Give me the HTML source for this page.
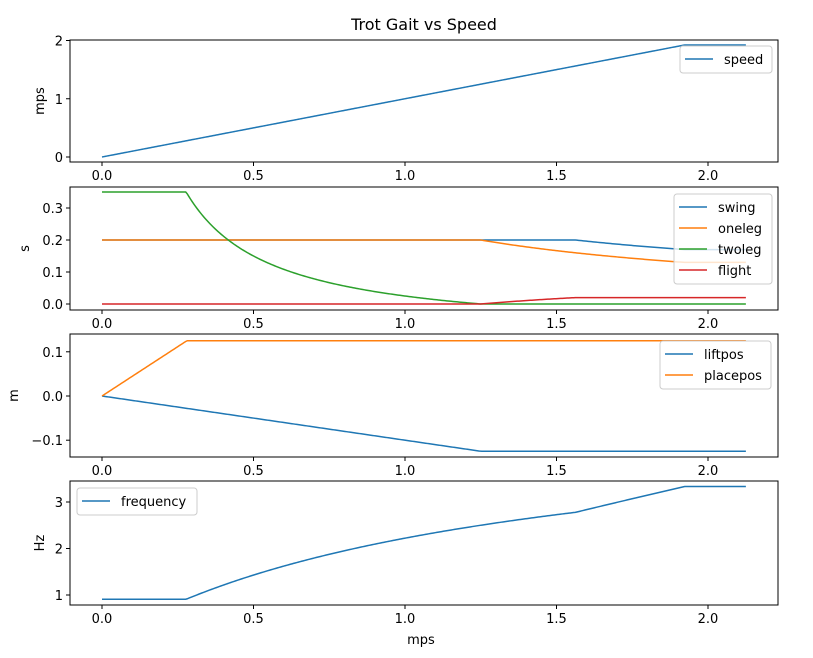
<!DOCTYPE html>
<html><head><meta charset="utf-8"><style>
body{margin:0;background:#fff}
svg{display:block;font-family:"DejaVu Sans","Liberation Sans",sans-serif}
</style></head><body>
<svg id="s" width="813" height="658" xmlns="http://www.w3.org/2000/svg"></svg>
<script>
const S=document.getElementById('s');let h='';
const X=v=>102+303*v, L=70, R=778;
const C=['#1f77b4','#ff7f0e','#2ca02c','#d62728'];
h+='<rect width="813" height="658" fill="#fff"/>';
h+='<text x="424" y="30" font-size="16" text-anchor="middle">Trot Gait vs Speed</text>';
function f(x){const v=Math.min(x,1.923);let tw,ol,fl,sw;
 if(v<=0.28){tw=0.35;ol=0.2;fl=0;sw=0.2}
 else if(v<=1.25){tw=Math.max(0,0.125/v-0.1);ol=0.2;fl=0;sw=0.2}
 else if(v<=1.5625){tw=0;ol=0.25/v;fl=(0.2-ol)/2;sw=0.2}
 else{tw=0;ol=0.25/v;fl=0.02;sw=ol+0.04}
 const lp=-Math.min(0.1*v,0.125),pp=Math.min(v*0.125/0.28,0.125);
 const T=2*(ol+tw+fl);
 return {speed:v,sw,ol,tw,fl,lp,pp,fr:1/T};}
const P=[{t:40,b:162,y0:157,k:58.25,keys:['speed'],ticks:[[0,'0'],[1,'1'],[2,'2']],yl:'mps',ylx:44},
{t:187,b:310,y0:304,k:320,keys:['sw','ol','tw','fl'],ticks:[[0,'0.0'],[0.1,'0.1'],[0.2,'0.2'],[0.3,'0.3']],yl:'s',ylx:29},
{t:334,b:457,y0:396,k:442,keys:['lp','pp'],ticks:[[-0.1,'−0.1'],[0,'0.0'],[0.1,'0.1']],yl:'m',ylx:18},
{t:481,b:605,y0:641.5,k:46.5,keys:['fr'],ticks:[[1,'1'],[2,'2'],[3,'3']],yl:'Hz',ylx:44}];
P.forEach((p,i)=>{
 p.keys.forEach((k,j)=>{let pts=[];for(let n=0;n<=400;n++){const x=2.125*n/400;pts.push(X(x).toFixed(2)+','+(p.y0-p.k*f(x)[k]).toFixed(2))}
  h+=`<polyline points="${pts.join(' ')}" fill="none" stroke="${C[j]}" stroke-width="1.5"/>`;});
 h+=`<rect x="${L}" y="${p.t}" width="${R-L}" height="${p.b-p.t}" fill="none" stroke="#000" stroke-width="1"/>`;
 [0,0.5,1,1.5,2].forEach(v=>{h+=`<line x1="${X(v)}" x2="${X(v)}" y1="${p.b}" y2="${p.b+4}" stroke="#000"/><text x="${X(v)}" y="${p.b+18}" font-size="13" text-anchor="middle">${v.toFixed(1)}</text>`});
 p.ticks.forEach(([v,s])=>{const y=p.y0-p.k*v;h+=`<line x1="${L-4}" x2="${L}" y1="${y}" y2="${y}" stroke="#000"/><text x="${L-7}" y="${y+5}" font-size="13" text-anchor="end">${s}</text>`});
 const cy=(p.t+p.b)/2;h+=`<text x="${p.ylx}" y="${cy}" font-size="13" text-anchor="middle" transform="rotate(-90 ${p.ylx} ${cy})">${p.yl}</text>`;
});
h+='<text x="421" y="644" font-size="13" text-anchor="middle">mps</text>';
function leg(x,y,w,names){const hh=names.length*21+6;h+=`<rect x="${x}" y="${y}" width="${w}" height="${hh}" rx="3" fill="#fff" fill-opacity="0.8" stroke="#ccc"/>`;
 names.forEach((n,j)=>{const yy=y+13+j*21;h+=`<line x1="${x+5}" x2="${x+33}" y1="${yy}" y2="${yy}" stroke="${C[j]}" stroke-width="1.5"/><text x="${x+44}" y="${yy+5}" font-size="13">${n}</text>`});}
leg(680,46,92,['speed']);
leg(674,194,98,['swing','oneleg','twoleg','flight']);
leg(660,341,111,['liftpos','placepos']);
leg(77,488,120,['frequency']);
S.innerHTML=h;
</script>
</body></html>
